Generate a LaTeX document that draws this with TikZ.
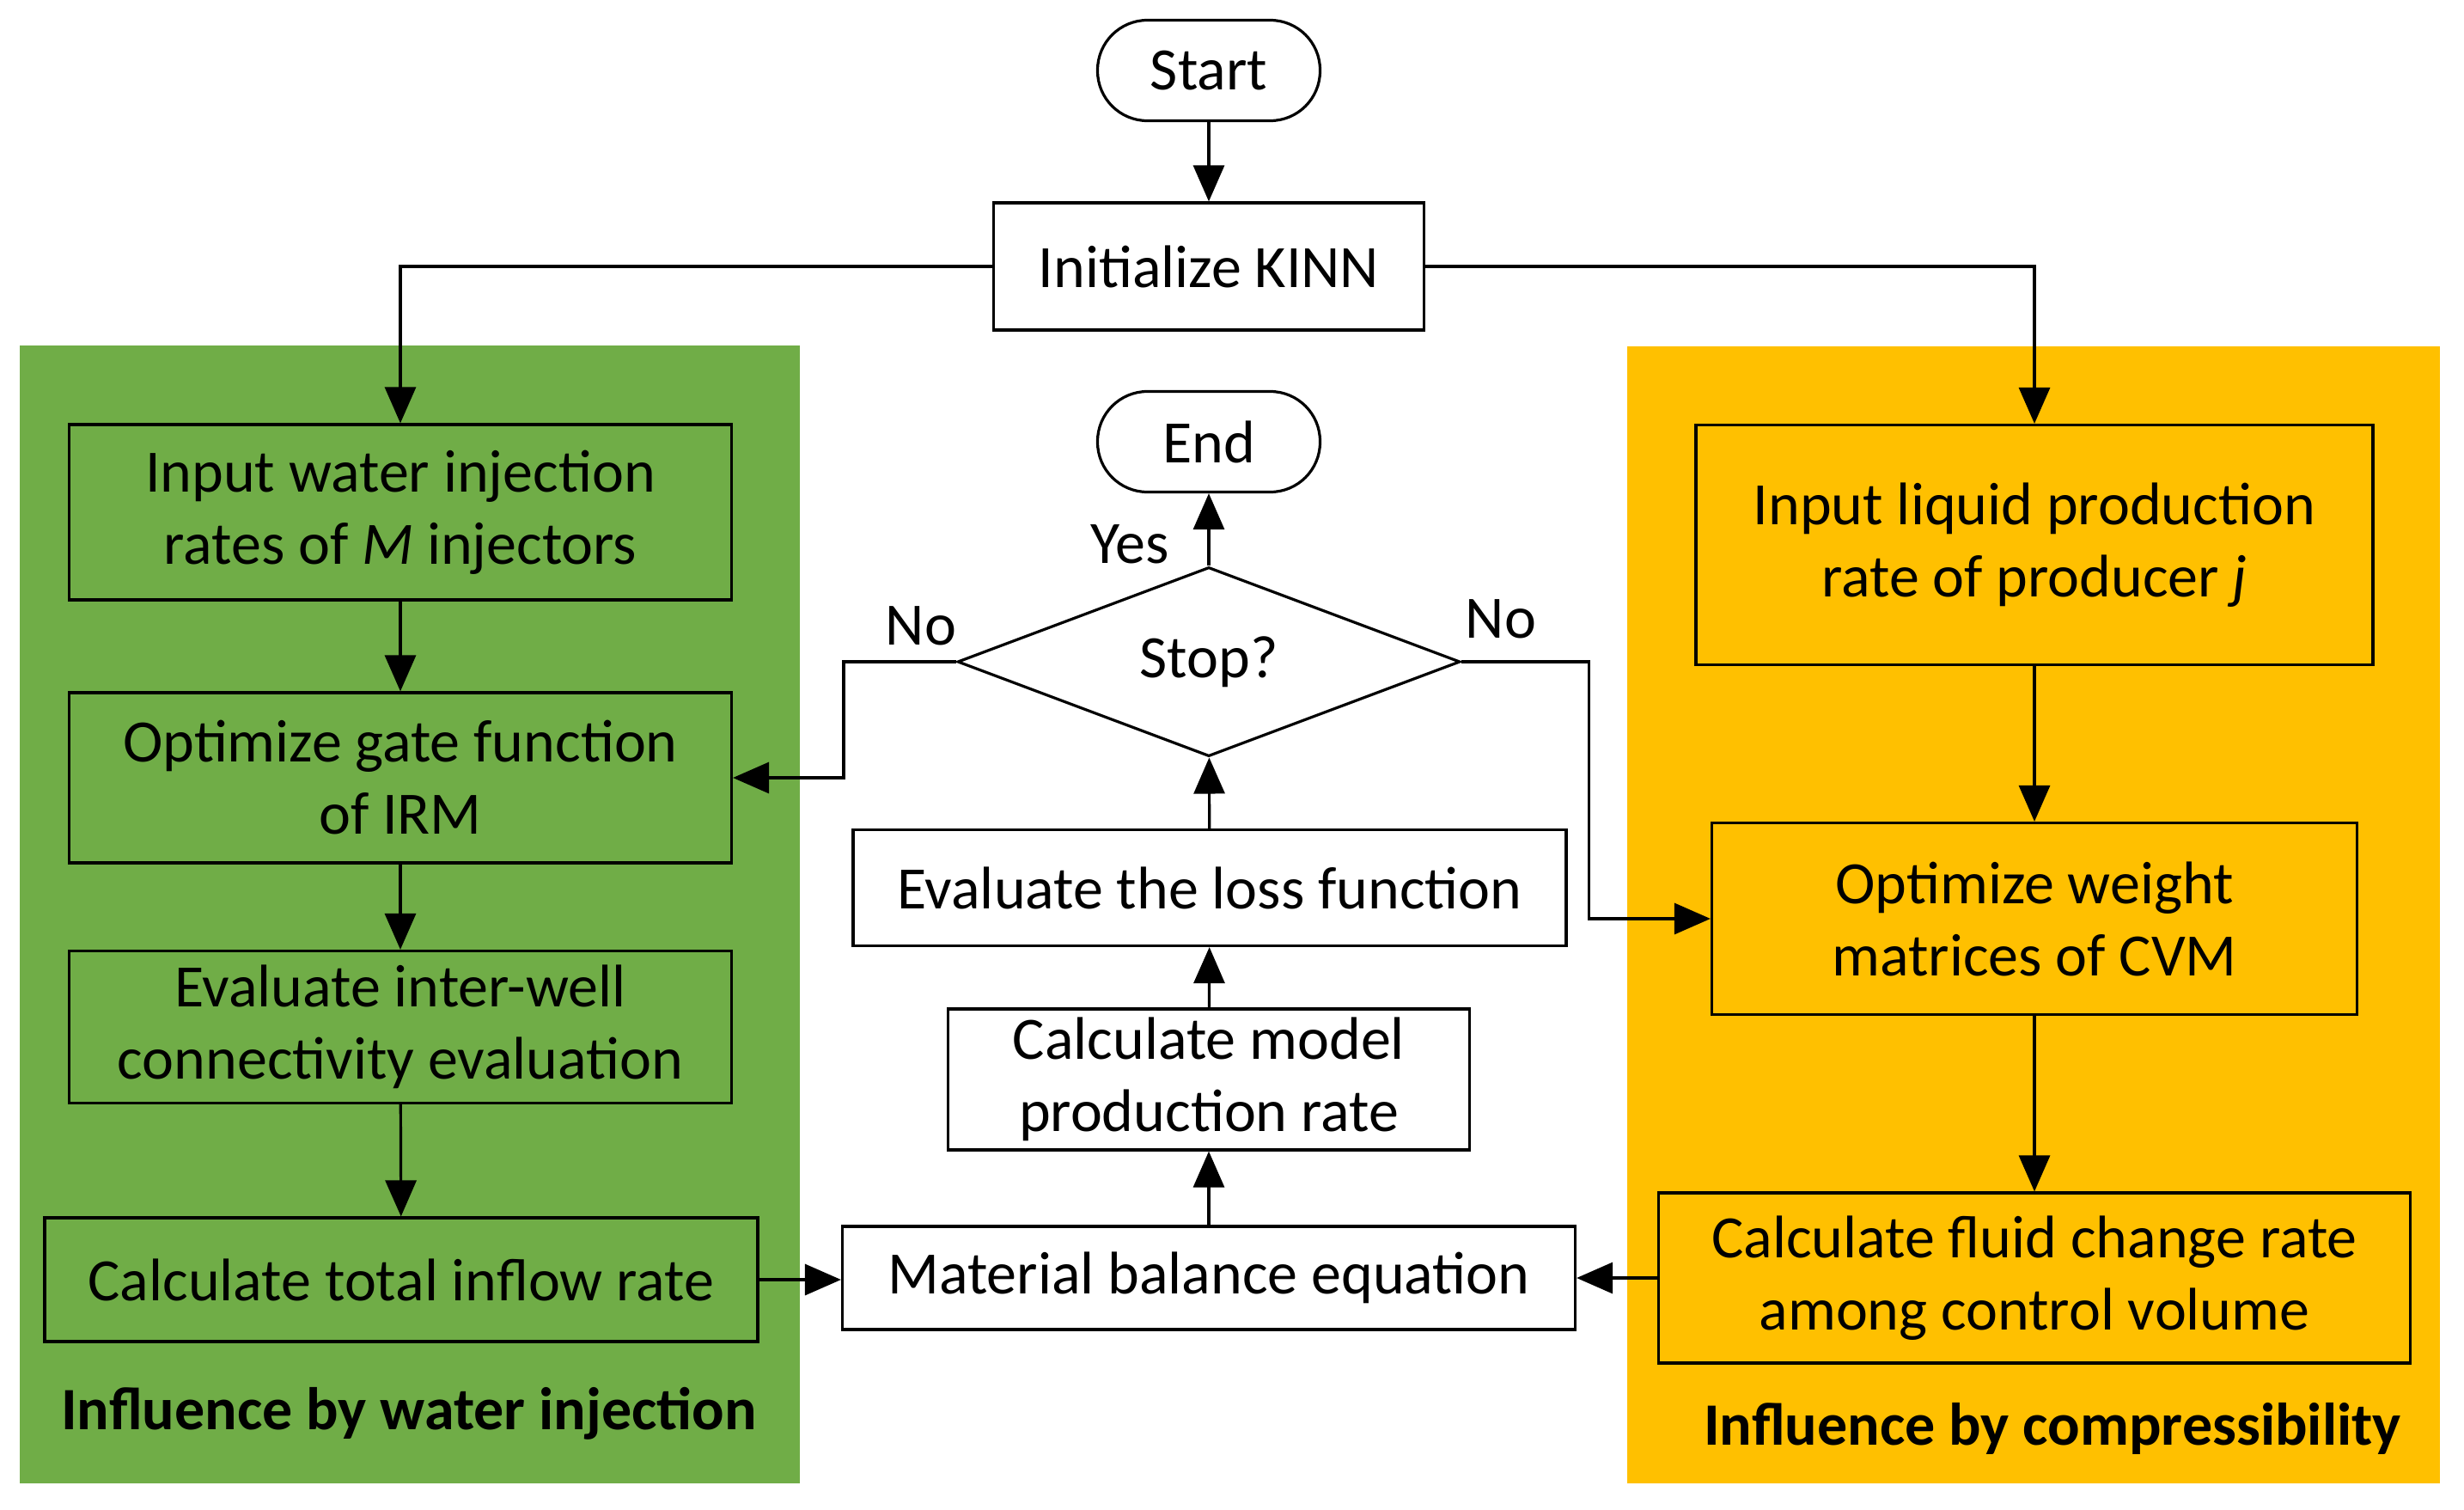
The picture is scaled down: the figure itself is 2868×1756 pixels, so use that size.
\documentclass[tikz,border=0pt]{standalone}
\usepackage{fontspec}
\setmainfont{Carlito}
\usetikzlibrary{shapes.geometric,arrows.meta}
\definecolor{pgreen}{HTML}{70AD47}
\definecolor{porange}{HTML}{FFC000}
\begin{document}
\begin{tikzpicture}[x=0.5pt,y=-0.5pt,
  every node/.style={font=\fontsize{35}{42}\selectfont},
  box/.style={draw, line width=1.6pt, inner sep=0pt, align=center},
  term/.style={box, rounded corners=29pt, minimum width=129.5pt, minimum height=58.5pt},
  decide/.style={draw, line width=1.6pt, diamond, inner sep=0pt, minimum width=292.5pt, minimum height=107pt},
  arr/.style={line width=1.6pt, -{Triangle[length=21pt,width=18pt]}},
  lbl/.style={inner sep=0pt},
  paneltitle/.style={inner sep=0pt, font=\fontsize{35}{42}\selectfont\bfseries}]
\useasboundingbox (0,0) rectangle (2868,1756);
\fill[white] (0,0) rectangle (2868,1756);
% panels
\fill[pgreen] (23,402) rectangle (931,1726);
\fill[porange] (1894,403) rectangle (2840,1726);
% centre column
\node[term] (start) at (1407,82) {Start};
\node[box, minimum width=250.5pt, minimum height=74pt] (init) at (1407,310) {Initialize KINN};
\node[term] (end) at (1407,514) {End};
\node[decide] (stop) at (1407,770) {Stop?};
\node[box, minimum width=415pt, minimum height=67.5pt] (loss) at (1408,1033) {Evaluate the loss function};
\node[box, minimum width=303.5pt, minimum height=82pt] (model) at (1407,1256) {Calculate model\\production rate};
\node[box, minimum width=426.5pt, minimum height=60pt] (mb) at (1407,1487) {Material balance equation};
% left column
\node[box, minimum width=385.5pt, minimum height=102pt] (inw) at (466,596) {Input water injection\\rates of \textit{M} injectors};
\node[box, minimum width=385.5pt, minimum height=99pt] (gate) at (466,905) {Optimize gate function\\of IRM};
\node[box, minimum width=385.5pt, minimum height=88.5pt] (conn) at (466,1195) {Evaluate inter-well\\connectivity evaluation};
\node[box, minimum width=415pt, minimum height=72pt] (tot) at (467,1489) {Calculate total inflow rate};
\node[paneltitle] (gtitle) at (476,1645) {Influence by water injection};
% right column
\node[box, minimum width=394pt, minimum height=139.5pt] (inl) at (2368,634) {Input liquid production\\rate of producer \textit{j}};
\node[box, minimum width=375.5pt, minimum height=111.5pt] (ow) at (2368,1069) {Optimize weight\\matrices of CVM};
\node[box, minimum width=437.5pt, minimum height=99pt] (fc) at (2368,1487) {Calculate fluid change rate\\among control volume};
\node[paneltitle] (otitle) at (2389,1662) {Influence by compressibility};
% labels
\node[lbl] (yes) at (1315,633) {Yes};
\node[lbl] (nol) at (1072,728) {No};
\node[lbl] (nor) at (1747,720) {No};
% connectors
\draw[arr] (start) -- (init);
\draw[arr] (init.west) -| (inw.north);
\draw[arr] (init.east) -| (inl.north);
\draw[arr] (inw) -- (gate);
\draw[arr] (gate) -- (conn);
\draw[arr] (conn) -- (tot);
\draw[arr] (tot.east) -- (tot.east -| mb.west);
\draw[arr] (fc.west) -- (fc.west -| mb.east);
\draw[arr] (mb) -- (model);
\draw[arr] (model) -- (loss);
\draw[arr] (loss) -- (stop);
\draw[arr] (stop) -- (end);
\draw[arr] (stop.west) -- ++(-131,0) |- (gate.east);
\draw[arr] (stop.east) -- ++(148,0) |- (ow.west);
\draw[arr] (inl) -- (ow);
\draw[arr] (ow) -- (fc);
\end{tikzpicture}
\end{document}
